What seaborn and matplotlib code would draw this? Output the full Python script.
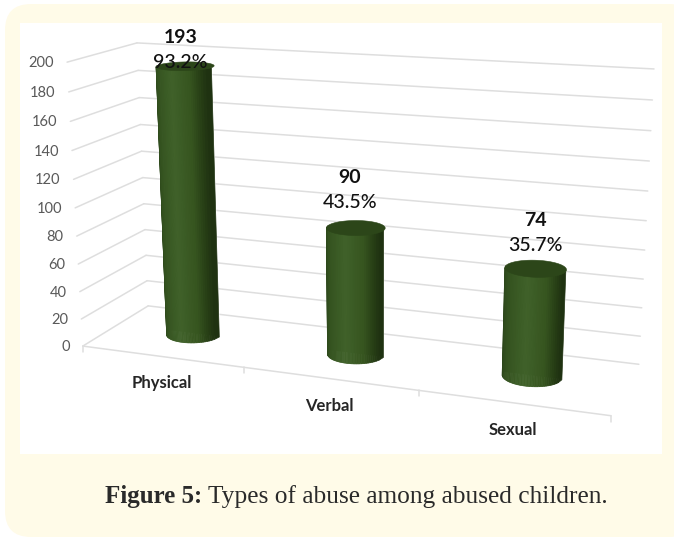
import numpy as np
import matplotlib
matplotlib.use("Agg")
import matplotlib.pyplot as plt
from matplotlib.patches import FancyBboxPatch, Rectangle
from matplotlib.transforms import Transform, IdentityTransform
from matplotlib.colors import LinearSegmentedColormap
import seaborn as sns

# ---- data ----
categories = ["Physical", "Verbal", "Sexual"]
counts = [193, 90, 74]
percents = ["93.2%", "43.5%", "35.7%"]
value_ticks = [0, 20, 40, 60, 80, 100, 120, 140, 160, 180, 200]
count_gap = [29, 50, 48]
percent_gap = [4, 25, 23]
label_shift = [-5, -6, 0]
caption_bold = "Figure 5:"
caption_rest = "Types of abuse among abused children."

W, H = 674, 537

# ---- the perspective of the chart box: (category, depth, value) -> picture pixels ----
box_points = np.array([[-0.5, 0, 0], [-0.5, 1, 0], [2.5, 1, 0], [2.5, 0, 0],
                       [-0.5, 0, 200], [-0.5, 1, 200], [2.5, 1, 200]], float)
box_pixels = np.array([[83, 346], [148, 306], [639, 364], [611, 416],
                       [67, 62], [137, 43], [654, 69]], float)


def fit_camera(pts, px):
    rows, rhs = [], []
    for (a, b, c), (x, y) in zip(pts, px):
        rows.append([a, b, c, 1, 0, 0, 0, 0, -x * a, -x * b, -x * c])
        rows.append([0, 0, 0, 0, a, b, c, 1, -y * a, -y * b, -y * c])
        rhs += [x, y]
    s = np.linalg.lstsq(np.array(rows), np.array(rhs), rcond=None)[0]
    return np.append(s, 1).reshape(3, 4)


CAM = fit_camera(box_points, box_pixels)


def project(u, d, v):
    u, d, v = np.broadcast_arrays(np.asarray(u, float), np.asarray(d, float), np.asarray(v, float))
    q = np.stack([u, d, v, np.ones_like(u)], axis=-1) @ CAM.T
    return q[..., 0] / q[..., 2], H - q[..., 1] / q[..., 2]


class Plane(Transform):
    """Maps the axes' (x, y) into the box: fixed depth, or fixed category for the side wall."""
    input_dims = output_dims = 2

    def __init__(self, at_depth=None, at_side=None):
        super().__init__()
        self.at_depth, self.at_side = at_depth, at_side

    def transform_non_affine(self, values):
        values = np.asarray(values, float)
        if self.at_side is not None:
            x, y = project(self.at_side, values[:, 0], values[:, 1])
        else:
            x, y = project(values[:, 0], self.at_depth, values[:, 1])
        return np.column_stack([x, y])


sns.set_theme(style="white")
plt.rcParams["font.family"] = ["Lato", "DejaVu Sans"]

fig = plt.figure(figsize=(W / 100, H / 100), dpi=100, facecolor="white")
px = IdentityTransform()
fig.add_artist(FancyBboxPatch((5 + 26, 26), 690 - 52, H - 4 - 52, boxstyle="round,pad=26",
                              fc="#fffbe8", ec="none", transform=px, zorder=-2))
fig.add_artist(Rectangle((20, H - 454), 642, 431, fc="white", ec="none", transform=px, zorder=-1))

ax = fig.add_axes([0, 0, 1, 1])
sns.barplot(x=categories, y=counts, color="#3a5a24", saturation=1, width=0.32, ax=ax, zorder=1)
ax.set_xlim(-0.5, 2.5)
ax.set_ylim(0, 200)
ax.set_axis_off()

GRID = "#dedede"
back, side, floor = Plane(at_depth=1), Plane(at_side=-0.5), Plane(at_depth=0)
for t in value_ticks:
    ax.plot([-0.5, 2.5], [t, t], color=GRID, lw=1.1, transform=back, zorder=0.5, clip_on=False)
    ax.plot([0, 1], [t, t], color=GRID, lw=1.1, transform=side, zorder=0.5, clip_on=False)
    ax.annotate(str(t), xy=(0, t), xycoords=side, xytext=(-13, -1), textcoords="offset pixels",
                ha="right", va="center", fontsize=10.5, color="#595959")

ax.plot([-0.5, 2.5], [0, 0], color=GRID, lw=1.1, transform=floor, zorder=0.5, clip_on=False)
for edge in [-0.5, 0.5, 1.5, 2.5]:
    x0, y0 = project(edge, 0, 0)
    ax.plot([x0, x0], [y0, y0 - 6], color=GRID, lw=1.1, transform=px, zorder=0.5, clip_on=False)

for i, name in enumerate(categories):
    ax.annotate(name, xy=(i, 0), xycoords=floor, xytext=(0, -27), textcoords="offset pixels",
                ha="center", va="center", fontsize=12, fontweight="bold", color="#262626")

# ---- turn each seaborn bar into a shaded cylinder standing mid-depth ----
shade = LinearSegmentedColormap.from_list(
    "cyl", [(0, "#2a431a"), (0.15, "#34521f"), (0.5, "#40622a"), (0.8, "#36541f"), (1, "#1e3010")])
DEPTH, DEPTH_R, STRIPS = 0.52, 0.2, 40
mid = Plane(at_depth=DEPTH)
for i, bar in enumerate(list(ax.patches)):
    bar.set_transform(mid)
    bar.set_clip_on(False)
    uc = bar.get_x() + bar.get_width() / 2
    ur = bar.get_width() / 2
    top = bar.get_height()
    cs = np.linspace(-1, 1, STRIPS + 1)
    for k in range(STRIPS):
        cc = cs[k:k + 2]
        us = uc + ur * cc
        ds = DEPTH - DEPTH_R * np.sqrt(1 - cc ** 2)
        xb, yb = project(us, ds, 0)
        xt, yt = project(us, ds, top)
        ax.fill([xb[0], xb[1], xt[1], xt[0]], [yb[0], yb[1], yt[1], yt[0]], color=shade((cc.mean() + 1) / 2),
                lw=0.5, snap=False, transform=px, zorder=2, clip_on=False)
    th = np.linspace(0, 2 * np.pi, 80)
    xd, yd = project(uc + ur * np.cos(th), DEPTH + DEPTH_R * np.sin(th), top)
    ax.fill(xd, yd, color="#2c4619", lw=0.4, transform=px, zorder=3, clip_on=False)
    ax.annotate(str(counts[i]), xy=(uc, top), xycoords=mid, xytext=(label_shift[i], count_gap[i]),
                textcoords="offset pixels", ha="center", va="center", fontsize=14, fontweight="bold",
                color="#111111", zorder=4)
    ax.annotate(percents[i], xy=(uc, top), xycoords=mid, xytext=(label_shift[i], percent_gap[i]),
                textcoords="offset pixels", ha="center", va="center", fontsize=14, color="#111111", zorder=4,
                fontweight="medium")

fig.text(105 / W, 1 - 497 / H, caption_bold, fontsize=18, fontweight="bold", family="Liberation Serif",
         color="#2a2a2a", ha="left", va="center")
fig.text(208 / W, 1 - 497 / H, caption_rest, fontsize=18.25, family="Liberation Serif",
         color="#2a2a2a", ha="left", va="center")

fig.savefig("out.png", dpi=100)
